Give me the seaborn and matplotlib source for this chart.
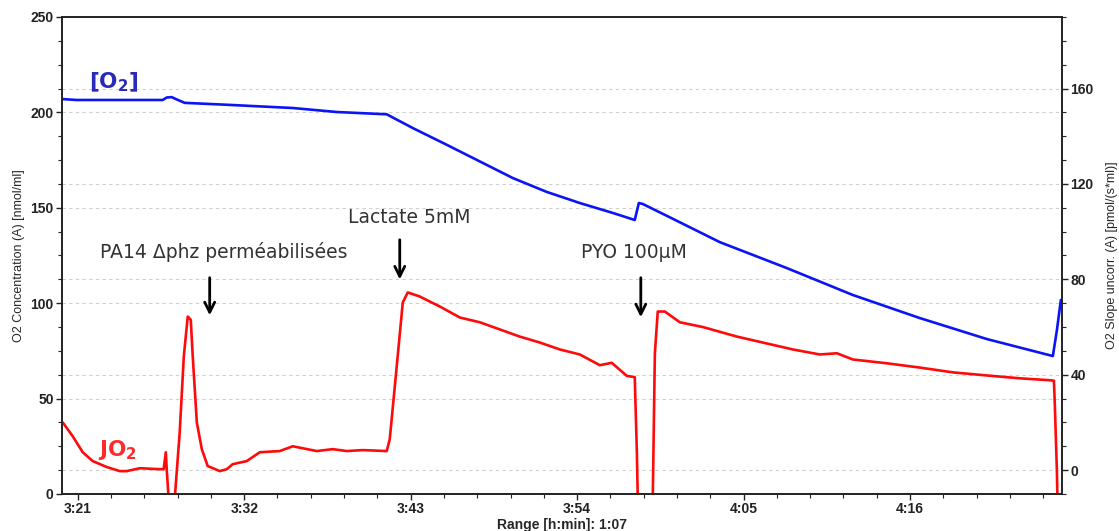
import numpy as np
import pandas as pd
import matplotlib
matplotlib.use("Agg")
import matplotlib.pyplot as plt
import matplotlib.ticker as mticker
import seaborn as sns

# time in minutes after 3:00
o2_time = [19.96, 20.93, 26.62, 26.88, 27.21, 27.48, 28.07, 30.85, 35.21, 38.12,
           41.42, 43.14, 45.39, 47.57, 49.75, 52.00, 54.18, 56.36, 57.81, 58.08,
           58.34, 60.13, 63.43, 67.86, 72.22, 76.65, 81.08, 85.44, 85.71, 85.97]
o2_conc = [207, 206.5, 206.5, 207.8, 208, 207, 205, 204, 202.3, 200.2,
           199, 191.8, 183, 174.3, 165.6, 158.3, 152.5, 147.3, 143.6, 152.5,
           152, 145, 132, 118.4, 104.3, 92.2, 81.2, 72.3, 86, 101.7]

jo2_time = [20.01, 20.67, 21.33, 21.99, 22.92, 23.78, 24.24, 25.10, 26.42, 26.68,
            26.82, 26.88, 27.01, 27.41, 27.74, 28.01, 28.27, 28.47, 28.60, 28.87,
            29.20, 29.59, 30.39, 30.85, 31.24, 32.17, 33.03, 34.35, 35.21, 36.80,
            37.85, 38.78, 39.84, 41.42, 41.62, 42.08, 42.48, 42.81, 43.60, 44.93,
            46.25, 47.57, 48.89, 50.21, 51.54, 52.86, 54.18, 55.50, 56.29, 57.29,
            57.81, 57.95, 58.01, 59.00, 59.14, 59.33, 59.80, 60.79, 62.31, 64.56,
            66.27, 68.26, 70.04, 71.17, 72.22, 74.47, 76.65, 78.83, 81.08, 83.26,
            85.24, 85.51, 85.57, 85.71, 85.74]
jo2_slope = [20, 14.2, 7.5, 3.8, 1.3, -0.4, -0.4, 0.8, 0.4, 0.4,
             7.5, 0.4, -12, -12, 16, 47.7, 64.4, 63, 47.7, 20,
             8.8, 1.7, -0.4, 0.4, 2.5, 3.8, 7.5, 8, 10, 8,
             8.8, 8, 8.4, 8, 13, 43.5, 70.3, 74.5, 72.8, 68.6,
             64, 62, 59, 56, 53.5, 50.6, 48.5, 44, 45, 39.5,
             39, 7.5, -12, -12, 49, 66.5, 66.5, 62, 60, 56,
             53.5, 50.6, 48.5, 49, 46.4, 44.8, 43, 41, 39.7, 38.5,
             37.7, 37.5, 27.6, -1, -12]

x_ticks = [21, 32, 43, 54, 65, 76]
x_labels = ["3:21", "3:32", "3:43", "3:54", "4:05", "4:16"]

o2_df = pd.DataFrame({"t": o2_time, "v": o2_conc})
jo2_df = pd.DataFrame({"t": jo2_time, "v": jo2_slope})

sns.set_style("white")
plt.rcParams["font.family"] = ["Liberation Sans", "DejaVu Sans"]

fig = plt.figure(figsize=(11.19, 5.31), dpi=100)
ax = fig.add_axes([0.0554, 0.0697, 0.8936, 0.8983])
ax2 = ax.twinx()

sns.lineplot(data=o2_df, x="t", y="v", ax=ax, color="#0a14f5", linewidth=1.9,
             estimator=None, sort=False)
sns.lineplot(data=jo2_df, x="t", y="v", ax=ax2, color="#ff0a0a", linewidth=1.9,
             estimator=None, sort=False)

ax.set_xlim(19.96, 86.04)
ax.set_ylim(0, 250)
ax2.set_ylim(-10, 190)

ax.set_xticks(x_ticks)
ax.set_xticklabels(x_labels)
ax.xaxis.set_minor_locator(mticker.MultipleLocator(2.2, offset=21))
ax.yaxis.set_major_locator(mticker.MultipleLocator(50))
ax.yaxis.set_minor_locator(mticker.MultipleLocator(12.5))
ax2.yaxis.set_major_locator(mticker.FixedLocator([0, 40, 80, 120, 160]))
ax2.yaxis.set_minor_locator(mticker.MultipleLocator(10))

grid_kw = dict(color="#cfcfcf", linestyle=(0, (3, 3)), linewidth=0.8)
for yv in [50, 100, 150, 200]:
    ax.axhline(yv, zorder=0, **grid_kw)
for yv in [0, 40, 80, 120, 160]:
    ax.axhline((yv + 10) * 250 / 200, zorder=0, **grid_kw)

for a in (ax, ax2):
    for s in a.spines.values():
        s.set_color("#222222")
        s.set_linewidth(1.2)
ax.tick_params(axis="both", which="major", direction="out", length=4, width=1,
               labelsize=10, colors="#222222", left=True, bottom=True, pad=2)
ax.tick_params(axis="both", which="minor", direction="out", length=3, width=0.8,
               left=True, bottom=True, colors="#222222")
ax2.tick_params(axis="y", which="major", direction="out", length=4, width=1,
                labelsize=10, colors="#222222", right=True, pad=2)
ax2.tick_params(axis="y", which="minor", direction="out", length=3, width=0.8,
                right=True, colors="#222222")
for lab in ax.get_xticklabels() + ax.get_yticklabels() + ax2.get_yticklabels():
    lab.set_fontweight("bold")

ax.set_xlabel("Range [h:min]: 1:07", fontsize=10, fontweight="bold", labelpad=1)
ax.set_ylabel("O2 Concentration (A) [nmol/ml]", fontsize=9, labelpad=4)
ax2.set_ylabel("O2 Slope uncorr. (A) [pmol/(s*ml)]", fontsize=9, labelpad=9)

txt = dict(family=["DejaVu Sans"], ha="center", va="center")
ax.text(23.38, 216, r"[O$_\mathregular{2}$]", color="#2a2ab8", fontsize=15.5,
        fontweight="bold", **txt)
ax.text(23.64, 23, r"JO$_\mathregular{2}$", color="#ff2a2a", fontsize=15.5,
        fontweight="bold", **txt)
ax.text(30.65, 126.8, "PA14 Δphz perméabilisées", color="#333333", fontsize=13.5, **txt)
ax.text(42.94, 144.7, "Lactate 5mM", color="#333333", fontsize=13.5, **txt)
ax.text(57.75, 126.8, "PYO 100µM", color="#333333", fontsize=13.5, **txt)

arrow_kw = dict(arrowstyle="->", color="black", lw=2, mutation_scale=18)
ax.annotate("", xy=(29.72, 92.2), xytext=(29.72, 114.8), arrowprops=arrow_kw)
ax.annotate("", xy=(42.28, 111), xytext=(42.28, 134.7), arrowprops=arrow_kw)
ax.annotate("", xy=(58.21, 91.2), xytext=(58.21, 114.8), arrowprops=arrow_kw)

fig.savefig("out.png", dpi=100)
